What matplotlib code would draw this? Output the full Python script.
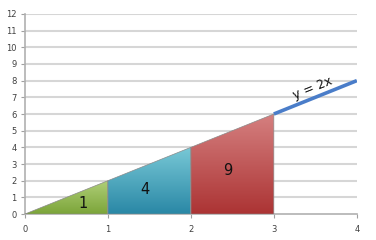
import matplotlib.pyplot as plt
import numpy as np
from matplotlib.colors import LinearSegmentedColormap

# data
line_x = [3, 4]
line_y = [6, 8]
band_edges = [0, 1, 2, 3]
band_labels = ['1', '4', '9']
label_x = [0.7, 1.45, 2.45]
label_y = [0.65, 1.5, 2.6]
top_colors = ['#b0cf78', '#78c8d6', '#d58080']
bottom_colors = ['#7ca53a', '#2a88a6', '#ac3434']
xticks = [0, 1, 2, 3, 4]
yticks = list(range(13))

fig = plt.figure(figsize=(3.76, 2.4), dpi=100)
ax = fig.add_axes([0.066, 0.108, 0.883, 0.834])

ax.set_xlim(0, 4)
ax.set_ylim(0, 12)
for y in yticks[1:]:
    ax.axhline(y, color='#d6d6d6', lw=1.5, zorder=1)

ax.plot(line_x, line_y, color='#4a7dc9', lw=2.6, zorder=2, solid_capstyle='butt')

# shaded areas under y = 2x with vertical gradient
for i in range(3):
    x0, x1 = band_edges[i], band_edges[i + 1]
    cmap = LinearSegmentedColormap.from_list('g', [bottom_colors[i], top_colors[i]])
    grad = np.linspace(0, 1, 100).reshape(-1, 1)
    im = ax.imshow(grad, cmap=cmap, origin='lower', extent=[x0, x1, 0, 2 * x1],
                   aspect='auto', zorder=3)
    poly = plt.Polygon([[x0, 0], [x0, 2 * x0], [x1, 2 * x1], [x1, 0]], closed=True,
                       facecolor='none', edgecolor='#8a8a8a', lw=0.5, zorder=4)
    ax.add_patch(poly)
    im.set_clip_path(poly)
    ax.text(label_x[i], label_y[i], band_labels[i], fontsize=10.5, ha='center', va='center',
            color='#111111', zorder=5)

ax.text(3.47, 7.55, 'y = 2x', fontsize=9, rotation=22, ha='center', va='center',
        color='#111111', zorder=5)

ax.set_xticks(xticks)
ax.set_yticks(yticks)
ax.tick_params(axis='both', labelsize=6, colors='#404040', length=3, width=0.8,
               pad=3)
ax.tick_params(axis='x', color='#a0a0a0', pad=5)
ax.tick_params(axis='y', color='#a0a0a0', length=3)
for s in ['top', 'right']:
    ax.spines[s].set_visible(False)
for s in ['left', 'bottom']:
    ax.spines[s].set_color('#b0b0b0')
    ax.spines[s].set_linewidth(1.2)

fig.savefig('out.png', dpi=100)
